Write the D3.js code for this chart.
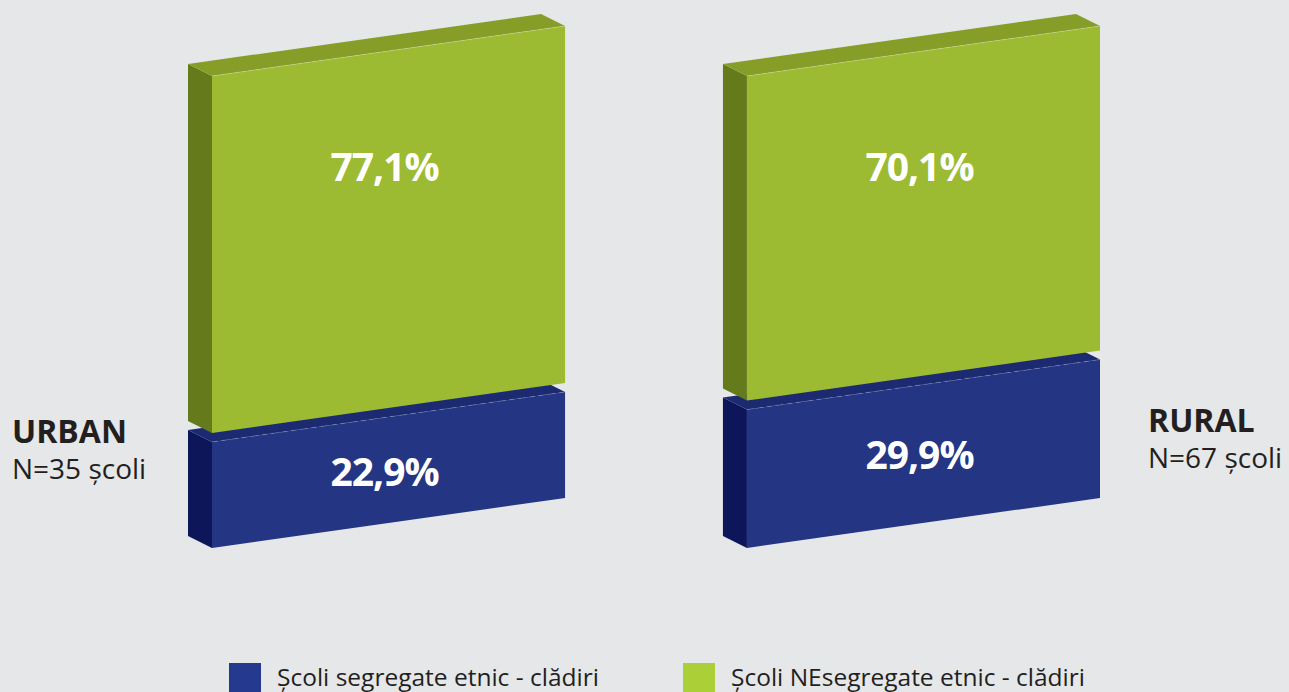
<!DOCTYPE html>
<html>
<head>
<meta charset="utf-8">
<script src="https://cdn.jsdelivr.net/npm/d3@7"></script>
<style>
html,body{margin:0;padding:0;background:#e6e7e9;}
svg{display:block;}
</style>
</head>
<body>
<svg id="chart" width="1289" height="692"></svg>
<script>
// ---- data ----
const categories = ["URBAN", "RURAL"];
const sampleLabels = ["N=35 școli", "N=67 școli"];
const segregated = [22.9, 29.9];
const nonSegregated = [77.1, 70.1];
const seriesNames = ["Școli segregate etnic - clădiri", "Școli NEsegregate etnic - clădiri"];

// ---- layout ----
const W = 1289, H = 692;
const baseY = 548;          // front-left bottom
const slope = 50 / 353;     // perspective slant of front face
const depthX = -24, depthY = -12;
const gap = 9;

const svg = d3.select("#chart");
svg.append("rect").attr("width", W).attr("height", H).attr("fill", "#e6e7e9");

const x = d3.scaleBand().domain(categories).range([212, 1100]).paddingInner(0.34).paddingOuter(0);
const h = d3.scaleLinear().domain([0, 100]).range([0, 463]);

const colors = [
  {front: "#243584", top: "#1c2a72", side: "#0c1659", swatch: "#253a8e"},
  {front: "#9cba32", top: "#869d28", side: "#657a1b", swatch: "#abcf37"}
];

const fmt = v => d3.format(".1f")(v).replace(".", ",") + "%";

categories.forEach((cat, i) => {
  const x0 = x(cat), x1 = x0 + x.bandwidth();
  const base = xx => baseY - (xx - x0) * slope;
  const segs = [
    {v0: 0, v1: segregated[i], off0: 0, off1: 0, c: colors[0]},
    {v0: segregated[i], v1: segregated[i] + nonSegregated[i], off0: gap, off1: gap, c: colors[1]}
  ];
  const g = svg.append("g");
  segs.forEach((s, k) => {
    const yb0 = base(x0) - h(s.v0) - s.off0, yb1 = base(x1) - h(s.v0) - s.off0;
    const yt0 = base(x0) - h(s.v1) - s.off1, yt1 = base(x1) - h(s.v1) - s.off1;
    g.append("polygon")
      .attr("points", [[x0, yb0], [x0, yt0], [x0 + depthX, yt0 + depthY], [x0 + depthX, yb0 + depthY]].join(" "))
      .attr("fill", s.c.side);
    g.append("polygon")
      .attr("points", [[x0, yt0], [x1, yt1], [x1 + depthX, yt1 + depthY], [x0 + depthX, yt0 + depthY]].join(" "))
      .attr("fill", s.c.top);
    g.append("polygon")
      .attr("points", [[x0, yb0], [x1, yb1], [x1, yt1], [x0, yt0]].join(" "))
      .attr("fill", s.c.front);
    g.append("line")
      .attr("x1", x0).attr("y1", yt0).attr("x2", x1).attr("y2", yt1)
      .attr("stroke", "#ffffff").attr("stroke-opacity", k === 0 ? 0.25 : 0.3)
      .attr("stroke-width", 0.8)
      .attr("stroke-dasharray", k === 0 ? "6,4" : null);
    const cx = (x0 + x1) / 2 - 4;
    const topMid = base(cx) - h(s.v1) - s.off1;
    const botMid = base(cx) - h(s.v0) - s.off0;
    const ly = k === 0 ? (topMid + botMid) / 2 + 15 : topMid + 129;
    g.append("text")
      .attr("x", cx).attr("y", ly)
      .attr("text-anchor", "middle")
      .attr("font-family", "'Open Sans', sans-serif")
      .attr("font-weight", 700)
      .attr("font-size", 39)
      .attr("letter-spacing", -1)
      .attr("fill", "#ffffff")
      .text(fmt(s.v1 - s.v0));
  });
});

// category labels
const catPos = [{x: 12, y: 443}, {x: 1148, y: 432}];
categories.forEach((cat, i) => {
  svg.append("text")
    .attr("x", catPos[i].x).attr("y", catPos[i].y)
    .attr("font-family", "'Open Sans', sans-serif").attr("font-weight", 700)
    .attr("font-size", 32).attr("fill", "#231f20")
    .text(cat);
  svg.append("text")
    .attr("x", catPos[i].x).attr("y", catPos[i].y + 36)
    .attr("font-family", "'Open Sans', sans-serif").attr("font-weight", 400)
    .attr("font-size", 28).attr("fill", "#231f20")
    .text(sampleLabels[i]);
});

// legend
const legendX = [229, 683];
seriesNames.forEach((name, i) => {
  svg.append("rect")
    .attr("x", legendX[i]).attr("y", 663).attr("width", 32).attr("height", 32)
    .attr("fill", colors[i].swatch);
  svg.append("text")
    .attr("x", legendX[i] + 48).attr("y", 686)
    .attr("font-family", "'Open Sans', sans-serif")
    .attr("font-size", 24.5).attr("fill", "#231f20")
    .text(name);
});
</script>
</body>
</html>
